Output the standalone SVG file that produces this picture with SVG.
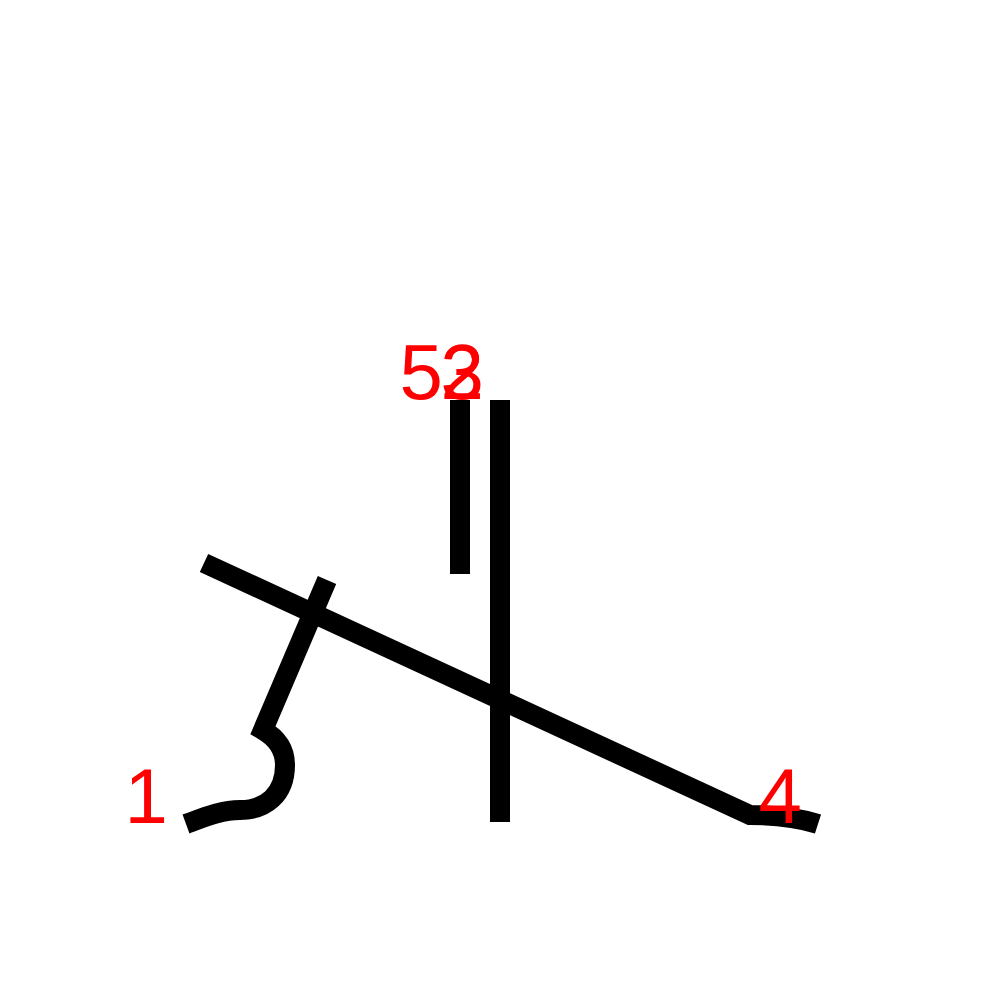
<svg xmlns="http://www.w3.org/2000/svg" width="1000" height="1000" viewBox="0 0 1000 1000">
<style>
.s{fill:none;stroke:#000;stroke-width:20;stroke-linecap:butt;stroke-linejoin:miter}
.l{fill:#f00;font-family:"Liberation Sans",Arial,sans-serif;font-size:78px;text-anchor:end}
</style>
<rect width="1000" height="1000" fill="#fff"/>
<g id="strokes">
<g id="stroke1"><path class="s" d="M186,824 C205,817 222,810 240,810 C265,810 285,795 285,765 C285,748 275,737 263,730 L327,580"/></g>
<g id="stroke2"><path class="s" d="M500,400 L500,822"/></g>
<g id="stroke4"><path class="s" d="M204,563 L750,815 Q790,815 818,824"/></g>
<g id="stroke5"><path class="s" d="M460,400 L460,574"/></g>
</g>
<g id="labels">
<text class="l" x="168" y="823">1</text>
<text class="l" x="484" y="399">2</text>
<text class="l" x="484" y="399">3</text>
<text class="l" x="802" y="823">4</text>
<text class="l" x="443" y="399">5</text>
</g>
</svg>
